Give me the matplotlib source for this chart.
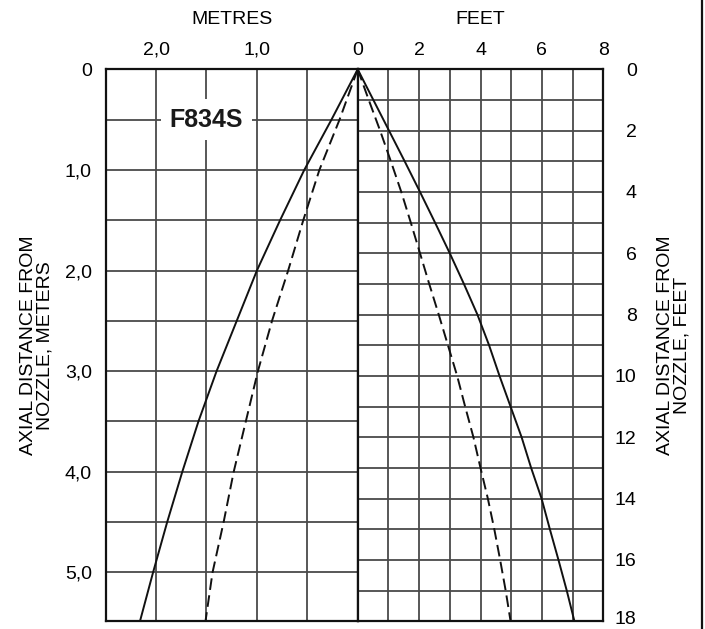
import matplotlib as mpl
mpl.use('agg')
import matplotlib.pyplot as plt
from matplotlib.lines import Line2D
from matplotlib.transforms import ScaledTranslation

plt.rcParams['font.family'] = ['Liberation Sans', 'DejaVu Sans']

# left half: metres
depth_m = [0, 0.5, 1.0, 1.5, 2.0, 2.5, 3.0, 3.5, 4.0, 4.5, 5.0, 5.486]
solid_m = [0, 0.26, 0.53, 0.77, 1.00, 1.20, 1.40, 1.58, 1.74, 1.89, 2.03, 2.16]
dashed_m = [0, 0.18, 0.38, 0.54, 0.69, 0.85, 0.99, 1.11, 1.23, 1.33, 1.44, 1.51]
m_xticks = [2.0, 1.0]
m_xlabels = ["2,0", "1,0"]
m_yticks = [0, 1, 2, 3, 4, 5]
m_ylabels = ["0", "1,0", "2,0", "3,0", "4,0", "5,0"]

# right half: feet
depth_ft = list(range(19))
solid_ft = [0, 0.51, 1.02, 1.53, 2.03, 2.52, 3.0, 3.46, 3.90, 4.28, 4.62,
            4.98, 5.34, 5.65, 5.99, 6.26, 6.54, 6.81, 7.06]
dashed_ft = [0, 0.36, 0.73, 1.08, 1.42, 1.73, 2.03, 2.33, 2.64, 2.94, 3.24,
             3.50, 3.77, 4.00, 4.24, 4.45, 4.64, 4.82, 4.98]
ft_xticks = [0, 2, 4, 6, 8]
ft_yticks = [0, 2, 4, 6, 8, 10, 12, 14, 16, 18]

W, H = 705, 629
fig = plt.figure(figsize=(W / 100, H / 100), dpi=100)

x0, xm, x1 = 105.7, 357.7, 603.3
ytop, ybot = 69.3, 621.3
axL = fig.add_axes([x0 / W, 1 - ybot / H, (xm - x0) / W, (ybot - ytop) / H])
axR = fig.add_axes([xm / W, 1 - ybot / H, (x1 - xm) / W, (ybot - ytop) / H])

gridc = '#4a4a4a'
dash = (0, (6, 2.8))

# metres side
axL.plot(solid_m, depth_m, color='#111111', lw=1.4, zorder=3)
axL.plot(dashed_m, depth_m, color='#111111', lw=1.4, linestyle=dash, zorder=3)
axL.set_xlim(2.5, 0)
axL.set_ylim(5.4864, 0)
axL.set_xticks(m_xticks)
axL.set_xticklabels(m_xlabels)
axL.set_xticks([1.5, 0.5], minor=True)
axL.set_yticks(m_yticks)
axL.set_yticklabels(m_ylabels)
axL.set_yticks([0.5, 1.5, 2.5, 3.5, 4.5], minor=True)
axL.xaxis.tick_top()
axL.tick_params(axis='x', which='both', length=0, pad=7.5, labelsize=14)
axL.tick_params(axis='y', which='both', length=0, pad=10, labelsize=14)
axL.grid(True, which='both', color=gridc, lw=1.3)
axL.text(1.5, 0.5, "F834S", fontsize=18, fontweight='bold', ha='center',
         va='center', color='#1a1a1a', zorder=4,
         bbox=dict(boxstyle='square,pad=0.35', fc='white', ec='none'))

# feet side
axR.plot(solid_ft, depth_ft, color='#111111', lw=1.4, zorder=3)
axR.plot(dashed_ft, depth_ft, color='#111111', lw=1.4, linestyle=dash, zorder=3)
axR.set_xlim(0, 8)
axR.set_ylim(18, 0)
axR.set_xticks(ft_xticks)
axR.set_xticks([1, 3, 5, 7], minor=True)
axR.set_yticks(ft_yticks)
axR.set_yticks([1, 3, 5, 7, 9, 11, 13, 15, 17], minor=True)
axR.xaxis.tick_top()
axR.yaxis.tick_right()
axR.tick_params(axis='x', which='both', length=0, pad=7.5, labelsize=14)
axR.tick_params(axis='y', which='both', length=0, pad=24, labelsize=14)
for lab in axR.get_yticklabels():
    lab.set_horizontalalignment('right')
# nudge the bottom label up so it stays inside the picture
last = axR.get_yticklabels()[-1]
last.set_transform(last.get_transform()
                   + ScaledTranslation(0, 3 / 72, fig.dpi_scale_trans))
axR.grid(True, which='both', color=gridc, lw=1.3)

for ax in (axL, axR):
    ax.set_axisbelow(True)
    for sp in ax.spines.values():
        sp.set_linewidth(1.6)
        sp.set_color('#111111')
        sp.set_zorder(5)

fig.text(231.7 / W, 1 - 19.7 / H, "METRES", fontsize=14, ha='center', va='center')
fig.text(480.5 / W, 1 - 19.7 / H, "FEET", fontsize=14, ha='center', va='center')
fig.text(36.5 / W, 1 - 345.3 / H, "AXIAL DISTANCE FROM\nNOZZLE, METERS",
         fontsize=14, rotation=90, ha='center', va='center', linespacing=0.95)
fig.text(674 / W, 1 - 345.3 / H, "AXIAL DISTANCE FROM\nNOZZLE, FEET",
         fontsize=14, rotation=90, ha='center', va='center', linespacing=0.95)

fig.add_artist(Line2D([702 / W, 702 / W], [0, 1], color='#111111', lw=1.6))

fig.savefig("out.png", dpi=100)
